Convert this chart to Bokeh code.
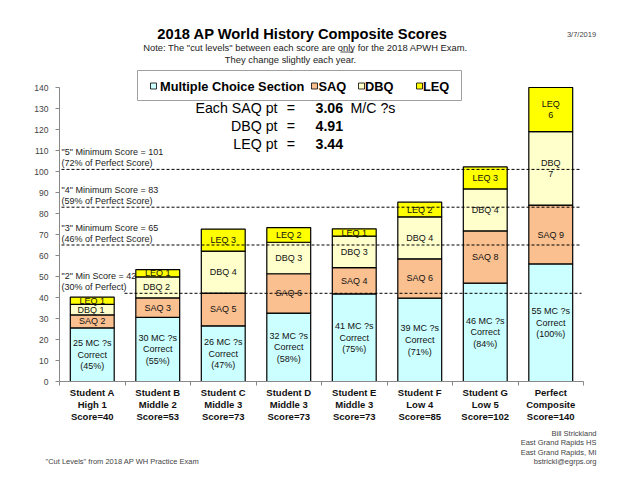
import numpy as np
from bokeh.plotting import figure
from bokeh.models import Range1d, FixedTicker, ColumnDataSource
from bokeh.core.properties import value
from bokeh.embed import file_html
from bokeh.resources import INLINE

# ---------------- data ----------------
students = ["Student A", "Student B", "Student C", "Student D", "Student E",
            "Student F", "Student G", "Perfect"]
levels = ["High 1", "Middle 2", "Middle 3", "Middle 3", "Middle 3",
          "Low 4", "Low 5", "Composite"]
scores = [40, 53, 73, 73, 73, 85, 102, 140]

mc = [25.5, 30.5, 26.5, 32.6, 41.7, 39.7, 46.8, 56.0]
saq = [6.2, 9.3, 15.6, 18.7, 12.5, 18.7, 24.9, 28.0]
dbq = [5.0, 10.0, 20.0, 15.0, 15.0, 20.0, 20.0, 35.0]
leq = [3.5, 3.5, 10.5, 7.0, 3.5, 7.0, 10.5, 21.0]

mc_correct = [25, 30, 26, 32, 41, 39, 46, 55]
mc_pct = [45, 55, 47, 58, 75, 71, 84, 100]
saq_labels = ["SAQ 2", "SAQ 3", "SAQ 5", "SAQ 6", "SAQ 4", "SAQ 6", "SAQ 8", "SAQ 9"]
dbq_labels = ["DBQ  1", "DBQ  2", "DBQ 4", "DBQ 3", "DBQ 3", "DBQ 4", "DBQ 4", "DBQ\n7"]
leq_labels = ["LEQ 1", "LEQ 1", "LEQ 3", "LEQ 2", "LEQ 1", "LEQ 2", "LEQ 3", "LEQ\n6"]

cut_scores = [101, 83, 65, 42]
cut_line1 = ['"5" Minimum Score = 101', '"4" Minimum Score = 83',
             '"3" Minimum Score = 65', '"2" Min Score = 42']
cut_line2 = ['(72% of Perfect Score)', '(59% of Perfect Score)',
             '(46% of Perfect Score)', '(30% of Perfect)']

series_names = ["Multiple Choice Section", "SAQ", "DBQ", "LEQ"]
colors = ["#CCFFFF", "#FAC090", "#FFFFCC", "#FFFF00"]

y_ticks = list(range(0, 141, 10))

# ---------------- layout helpers (page pixel -> data) ----------------
def X(px):
    return -0.5 + (px - 59) / 65.5

def Y(py):
    return (381 - py) / 2.1

W, H = 636, 490
FONT = "Liberation Sans"
F = value(FONT)

p = figure(width=W, height=H, output_backend="svg", toolbar_location=None,
           title=None, x_range=Range1d(X(0), X(W)), y_range=Range1d(Y(H), Y(0)),
           min_border=0, min_border_left=0, min_border_right=0,
           min_border_top=0, min_border_bottom=0)
p.outline_line_color = None
p.xgrid.visible = False
p.ygrid.visible = False
p.background_fill_color = "white"
p.border_fill_color = "white"

# axes
p.yaxis.fixed_location = -0.5
p.yaxis.ticker = FixedTicker(ticks=y_ticks)
p.yaxis.bounds = (0, 140)
p.yaxis.major_tick_out = 4
p.yaxis.major_tick_in = 0
p.yaxis.minor_tick_line_color = None
p.yaxis.axis_line_color = "#888888"
p.yaxis.major_tick_line_color = "#888888"
p.yaxis.major_label_text_font = FONT
p.yaxis.major_label_text_font_size = "8.5px"
p.yaxis.major_label_text_color = "#444444"
p.yaxis.major_label_standoff = 7

idx = np.arange(len(students))
p.xaxis.fixed_location = 0
p.xaxis.ticker = FixedTicker(ticks=list(idx - 0.5) + [len(students) - 0.5])
p.xaxis.bounds = (-0.5, len(students) - 0.5)
p.xaxis.major_tick_out = 4
p.xaxis.major_tick_in = 0
p.xaxis.minor_tick_line_color = None
p.xaxis.axis_line_color = "#888888"
p.xaxis.major_tick_line_color = "#888888"
p.xaxis.major_label_text_font_size = "0px"
p.xaxis.major_label_text_alpha = 0

# stacked bars
stack = np.vstack([mc, saq, dbq, leq])
tops = np.cumsum(stack, axis=0)
bottoms = tops - stack
for k in range(4):
    src = ColumnDataSource(dict(x=idx, bottom=bottoms[k], top=tops[k]))
    p.vbar(x="x", width=0.67, bottom="bottom", top="top", source=src,
           fill_color=colors[k], line_color="black", line_width=1.2)

# segment labels
mid = (bottoms + tops) / 2
mc_text = [f"{a} MC ?s\nCorrect\n({b}%)" for a, b in zip(mc_correct, mc_pct)]
for k, labels in enumerate([mc_text, saq_labels, dbq_labels, leq_labels]):
    p.text(x=idx, y=mid[k], text=labels, text_align="center", text_baseline="middle",
           text_font=F, text_font_size="9px", text_color="#111111",
           text_line_height=1.17)

# cut level lines
x_start = [X(61), X(61), X(61), X(124)]
p.segment(x0=x_start, y0=cut_scores, x1=[X(581)] * 4, y1=cut_scores,
          line_color="black", line_width=1, line_dash="3 2")
p.text(x=[X(61)] * 4, y=cut_scores, text=cut_line1, y_offset=-17,
       text_align="left", text_baseline="middle", text_font=F,
       text_font_size="9px", text_color="#222222")
p.text(x=[X(61)] * 4, y=cut_scores, text=cut_line2, y_offset=-6,
       text_align="left", text_baseline="middle", text_font=F,
       text_font_size="9px", text_color="#222222")

# category labels
cat_text = [f"{s}\n{l}\nScore={v}" for s, l, v in zip(students, levels, scores)]
p.text(x=idx, y=Y(404), text=cat_text, text_align="center", text_baseline="middle",
       text_font=F, text_font_size="9.5px", text_font_style="bold",
       text_color="#111111", text_line_height=1.07)

# title & notes
p.text(x=[X(302)], y=[Y(33)], text=["2018 AP World History Composite Scores"],
       text_align="center", text_baseline="middle", text_font=F,
       text_font_size="14.7px", text_font_style="bold", text_color="black")
p.text(x=[X(305)], y=[Y(47.3)],
       text=['Note: The "cut levels" between each score are only for the 2018 APWH Exam.'],
       text_align="center", text_baseline="middle", text_font=F,
       text_font_size="9.4px", text_color="#222222")
p.segment(x0=[X(340)], y0=[Y(51.5)], x1=[X(353)], y1=[Y(51.5)], line_color="#222222",
          line_width=0.8)
p.text(x=[X(290)], y=[Y(59)], text=["They change slightly each year."],
       text_align="center", text_baseline="middle", text_font=F,
       text_font_size="9.4px", text_color="#222222")
p.text(x=[X(581)], y=[Y(34)], text=["3/7/2019"], text_align="center",
       text_baseline="middle", text_font=F, text_font_size="7.5px", text_color="#444444")

# legend box
p.quad(left=[X(137)], right=[X(461)], top=[Y(70)], bottom=[Y(100)],
       fill_color="white", line_color="#A0A0A0", line_width=1)
sw_px = [153, 314, 361, 419]
txt_px = [159.5, 318, 364.5, 422.5]
p.scatter(x=[X(v) for v in sw_px], y=[Y(85.5)] * 4, marker="square", size=6,
          fill_color=colors, line_color="black", line_width=0.8)
p.text(x=[X(v) for v in txt_px], y=[Y(85.5)] * 4, text=series_names,
       text_align="left", text_baseline="middle", text_font=F,
       text_font_size="12.8px", text_font_style="bold", text_color="black")

# equation block
eq_left = ["Each SAQ pt", "DBQ pt", "LEQ pt"]
eq_val = ["3.06", "4.91", "3.44"]
eq_y = [Y(107), Y(125), Y(143)]
p.text(x=[X(277)] * 3, y=eq_y, text=eq_left, text_align="right", text_baseline="middle",
       text_font=F, text_font_size="14.2px", text_color="black")
p.text(x=[X(290.5)] * 3, y=eq_y, text=["="] * 3, text_align="center",
       text_baseline="middle", text_font=F, text_font_size="14.2px", text_color="black")
p.text(x=[X(315)] * 3, y=eq_y, text=eq_val, text_align="left", text_baseline="middle",
       text_font=F, text_font_size="14.2px", text_font_style="bold", text_color="black")
p.text(x=[X(350)], y=[eq_y[0]], text=["M/C ?s"], text_align="left",
       text_baseline="middle", text_font=F, text_font_size="14.2px", text_color="black")

# footer
credits = ["Bill Strickland", "East Grand Rapids HS", "East Grand Rapids, MI",
           "bstrickl@egrps.org"]
p.text(x=[X(596)] * 4, y=[Y(433), Y(442.3), Y(451.5), Y(461)], text=credits,
       text_align="right", text_baseline="middle", text_font=F,
       text_font_size="7.5px", text_color="#444444")
p.text(x=[X(45)], y=[Y(461)], text=['"Cut Levels" from 2018  AP WH Practice Exam'],
       text_align="left", text_baseline="middle", text_font=F,
       text_font_size="7.5px", text_color="#444444")

open("out.html", "w").write(file_html(p, INLINE))
